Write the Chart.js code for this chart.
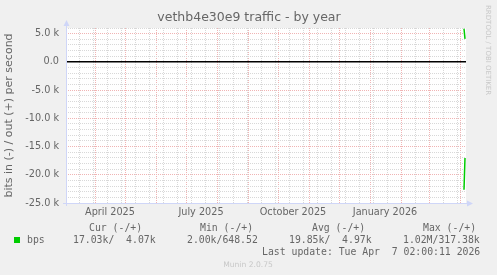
<!DOCTYPE html>
<html>
<head>
<meta charset="utf-8">
<script src="https://cdn.jsdelivr.net/npm/chart.js@4.4.1/dist/chart.umd.min.js"></script>
<style>
  html, body { margin: 0; padding: 0; background: #f0f0f0; }
  canvas { display: block; }
</style>
</head>
<body>
<canvas id="chart" width="497" height="275"></canvas>
<script>
const startDate = '2025-03-03';
const spanDays = 400;
const pointDates = ['2026-04-05', '2026-04-06'];
const bitsIn = [-22670, -17030];   // drawn below zero
const bitsOut = [5870, 4070];

const quarterLabels = ['April 2025', 'July 2025', 'October 2025', 'January 2026'];
const quarterLabelDates = ['2025-04-16', '2025-07-16', '2025-10-16', '2026-01-16'];

const legendHeads = ['Cur (-/+)', 'Min (-/+)', 'Avg (-/+)', 'Max (-/+)'];
const legendValues = ['17.03k/  4.07k', '2.00k/648.52', '19.85k/  4.97k', '1.02M/317.38k'];
const lastUpdate = 'Last update: Tue Apr  7 02:00:11 2026';

const day = s => (Date.parse(s) - Date.parse(startDate)) / 86400000;

// month starts (major grid) and fortnight lines (minor grid)
const monthTicks = [];
for (let m = 1; m <= 13; m++) {
  const d = new Date(Date.UTC(2025, 2 + m, 1));
  monthTicks.push(day(d.toISOString().slice(0, 10)));
}
const minorTicks = [];
for (let v = day('2025-03-16'); v < spanDays; v += 14) minorTicks.push(v);
const labelTicks = quarterLabelDates.map(day);
const labelMap = {};
labelTicks.forEach((v, i) => { labelMap[v] = quarterLabels[i]; });

const FONT = 'DejaVu Sans';
const MONO = 'DejaVu Sans Mono';
const TXT = '#666666';
const AXIS = '#cfd6f8';
const GREEN = '#00cc00';
const MINOR = '#d8d8d8';
const MAJOR = '#f0b4b4';

function fmtY(v) {
  if (v === 0) return '0.0';
  return (v / 1000).toFixed(1) + ' k';
}

const decorations = {
  id: 'decorations',
  beforeDraw(chart) {
    const ctx = chart.ctx, a = chart.chartArea;
    ctx.save();
    ctx.fillStyle = '#f0f0f0';
    ctx.fillRect(0, 0, chart.width, chart.height);
    ctx.fillStyle = '#ffffff';
    ctx.fillRect(a.left, a.top, a.right - a.left, a.bottom - a.top);
    ctx.restore();
  },
  afterDraw(chart) {
    const ctx = chart.ctx, a = chart.chartArea;
    ctx.save();
    // axes with arrows
    ctx.strokeStyle = AXIS;
    ctx.fillStyle = AXIS;
    ctx.lineWidth = 1;
    ctx.beginPath();
    ctx.moveTo(a.left + 0.5, a.bottom + 3);
    ctx.lineTo(a.left + 0.5, a.top - 3);
    ctx.moveTo(a.left - 3, a.bottom + 0.5);
    ctx.lineTo(a.right + 3, a.bottom + 0.5);
    ctx.stroke();
    ctx.beginPath();
    ctx.moveTo(a.left - 2.5, a.top - 2);
    ctx.lineTo(a.left + 3.5, a.top - 2);
    ctx.lineTo(a.left + 0.5, a.top - 8);
    ctx.closePath();
    ctx.fill();
    ctx.beginPath();
    ctx.moveTo(a.right + 1, a.bottom - 2.5);
    ctx.lineTo(a.right + 1, a.bottom + 3.5);
    ctx.lineTo(a.right + 7, a.bottom + 0.5);
    ctx.closePath();
    ctx.fill();

    // title
    ctx.fillStyle = TXT;
    ctx.font = '12.5px "' + FONT + '"';
    ctx.textAlign = 'center';
    ctx.textBaseline = 'middle';
    ctx.fillText('vethb4e30e9 traffic - by year', 249, 18);

    // rrdtool credit, vertical
    ctx.save();
    ctx.translate(488, 5);
    ctx.rotate(Math.PI / 2);
    ctx.fillStyle = '#c8c8c8';
    ctx.font = '7px "' + FONT + '"';
    ctx.textAlign = 'left';
    ctx.fillText('RRDTOOL / TOBI OETIKER', 0, 0);
    ctx.restore();

    // legend block
    ctx.font = '9.8px "' + MONO + '"';
    ctx.textAlign = 'left';
    ctx.fillStyle = TXT;
    const headX = [89, 200, 312, 423];
    const valX = [73, 187, 289, 403];
    legendHeads.forEach((t, i) => ctx.fillText(t, headX[i], 228));
    legendValues.forEach((t, i) => ctx.fillText(t, valX[i], 240));
    ctx.fillText('bps', 27, 240);
    ctx.fillText(lastUpdate, 262, 252);
    ctx.fillStyle = GREEN;
    ctx.fillRect(14, 237, 6, 6);

    ctx.fillStyle = '#c8c8c8';
    ctx.font = '7.6px "' + FONT + '"';
    ctx.textAlign = 'center';
    ctx.fillText('Munin 2.0.75', 248, 265);
    ctx.restore();
  }
};

new Chart(document.getElementById('chart'), {
  type: 'line',
  data: {
    datasets: [{
      label: 'in',
      data: pointDates.map((d, i) => ({ x: day(d), y: bitsIn[i] })),
      borderColor: GREEN,
      borderWidth: 1.5,
      pointRadius: 0,
      fill: false
    }, {
      label: 'out',
      data: pointDates.map((d, i) => ({ x: day(d), y: bitsOut[i] })),
      borderColor: GREEN,
      borderWidth: 1.5,
      pointRadius: 0,
      fill: false
    }]
  },
  options: {
    responsive: false,
    animation: false,
    devicePixelRatio: 1,
    layout: { padding: { top: 28, right: 31, bottom: 52, left: 0 } },
    plugins: {
      legend: { display: false },
      tooltip: { enabled: false },
      title: { display: false }
    },
    scales: {
      x: {
        type: 'linear',
        min: 0,
        max: spanDays,
        afterBuildTicks: scale => {
          const vals = minorTicks.concat(monthTicks, labelTicks);
          scale.ticks = vals.map(v => ({ value: v }));
        },
        afterFit: scale => { scale.height = 20; },
        grid: {
          drawTicks: false,
          lineWidth: 1,
          color: ctx => {
            const v = ctx.tick && ctx.tick.value;
            if (labelMap[v] !== undefined) return 'rgba(0,0,0,0)';
            if (monthTicks.includes(v)) return MAJOR;
            return MINOR;
          }
        },
        border: { display: false, dash: [1, 1] },
        ticks: {
          autoSkip: false,
          maxRotation: 0,
          padding: 4,
          color: TXT,
          font: { family: FONT, size: 9.7 },
          callback: v => labelMap[v] || ''
        }
      },
      y: {
        min: -25000,
        max: 6000,
        afterFit: scale => { scale.width = 66; },
        grid: {
          drawTicks: false,
          lineWidth: ctx => (ctx.tick && ctx.tick.value === 0 ? 1.5 : 1),
          color: ctx => {
            const v = ctx.tick && ctx.tick.value;
            if (v === 0) return '#000000';
            return v % 5000 === 0 ? MAJOR : MINOR;
          }
        },
        border: {
          display: false,
          dash: ctx => (ctx.tick && ctx.tick.value === 0 ? [] : [1, 1])
        },
        ticks: {
          stepSize: 1000,
          autoSkip: false,
          padding: 7,
          color: TXT,
          font: { family: FONT, size: 9.7 },
          callback: v => (v % 5000 === 0 ? fmtY(v) : '')
        },
        title: {
          display: true,
          text: 'bits in (-) / out (+) per second',
          color: TXT,
          font: { family: FONT, size: 11 },
          padding: { top: 3, bottom: 0 }
        }
      }
    }
  },
  plugins: [decorations]
});
</script>
</body>
</html>
